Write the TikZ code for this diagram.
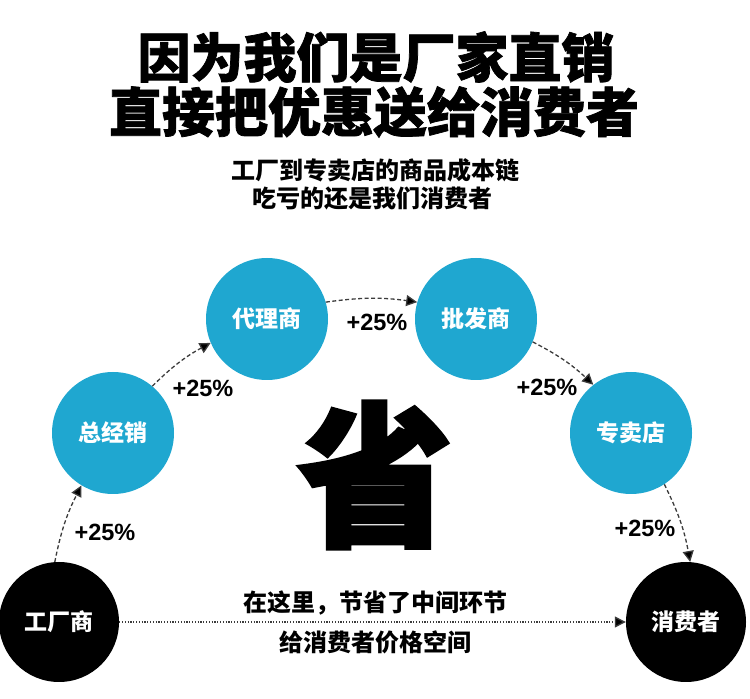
\documentclass[tikz,border=0pt]{standalone}
\usepackage{fontspec}
\setmainfont{Liberation Sans}
\newfontfamily\cjk{Noto Sans CJK SC}
\newfontfamily\cjkheavy[FakeBold=1.4]{Noto Sans CJK SC}
\newfontfamily\cjkblack[FakeBold=2.5]{Noto Sans CJK SC}
\usetikzlibrary{arrows.meta}
\definecolor{cblue}{RGB}{31,167,208}
\definecolor{lineg}{RGB}{60,60,60}
\tikzset{
  bluecirc/.style={circle, fill=cblue, minimum size=122pt, inner sep=0pt, text=white,
    font=\cjk\bfseries\fontsize{23}{23}\selectfont},
  blackcirc/.style={circle, fill=black, minimum size=120pt, inner sep=0pt, text=white,
    font=\cjk\bfseries\fontsize{23}{23}\selectfont},
  flow/.style={draw=lineg, line width=1.3pt, dash pattern=on 4pt off 2.5pt,
    -{Triangle[length=11pt,width=11pt,fill=black]}},
  direct/.style={draw=lineg, line width=1.3pt, dash pattern=on 1.2pt off 1.6pt,
    -{Triangle[length=11pt,width=11pt,fill=black]}},
  pct/.style={font=\bfseries\fontsize{23.5}{23.5}\selectfont, inner sep=0pt},
  title/.style={font=\cjkheavy\bfseries\fontsize{53}{53}\selectfont, inner sep=0pt},
  sub/.style={font=\cjk\bfseries\fontsize{24}{24}\selectfont, inner sep=0pt},
}
\begin{document}
\begin{tikzpicture}[x=1pt,y=1pt]
\useasboundingbox (0,0) rectangle (750,699);
% titles
\node[title] (t1) at (376,642) {因为我们是厂家直销};
\node[title] (t2) at (374,587) {直接把优惠送给消费者};
\node[sub] (s1) at (375,529) {工厂到专卖店的商品成本链};
\node[sub] (s2) at (372,500) {吃亏的还是我们消费者};
% circles
\node[blackcirc] (fac) at (59,77) {工厂商};
\node[bluecirc] (zjx) at (113,266) {总经销};
\node[bluecirc] (dls) at (267,380) {代理商};
\node[bluecirc] (pfs) at (476,380) {批发商};
\node[bluecirc] (zmd) at (631,266) {专卖店};
\node[blackcirc] (con) at (686,77) {消费者};
% big character
\node[font=\cjkblack\bfseries\fontsize{155}{155}\selectfont, inner sep=0pt] (sheng) at (375,224) {省};
% arrows
\draw[flow] (fac.94) to[bend left=8] (zjx.239);
\draw[flow] (zjx.50) to[bend left=8] (dls.203);
\draw[flow] (dls.16) to[bend left=8] (pfs.164);
\draw[flow] (pfs.-22) to[bend left=8] (zmd.128);
\draw[flow] (zmd.-57) to[bend left=8] (con.86);
\draw[direct] (fac.east) -- (con.west);
% labels
\node[pct] (l1) at (105,167) {+25\%};
\node[pct] (l2) at (203,311) {+25\%};
\node[pct] (l3) at (377,377) {+25\%};
\node[pct] (l4) at (547,312) {+25\%};
\node[pct] (l5) at (645,171) {+25\%};
% bottom text
\node[sub] (b1) at (375,96) {在这里，节省了中间环节};
\node[sub] (b2) at (375,57) {给消费者价格空间};
\end{tikzpicture}
\end{document}
